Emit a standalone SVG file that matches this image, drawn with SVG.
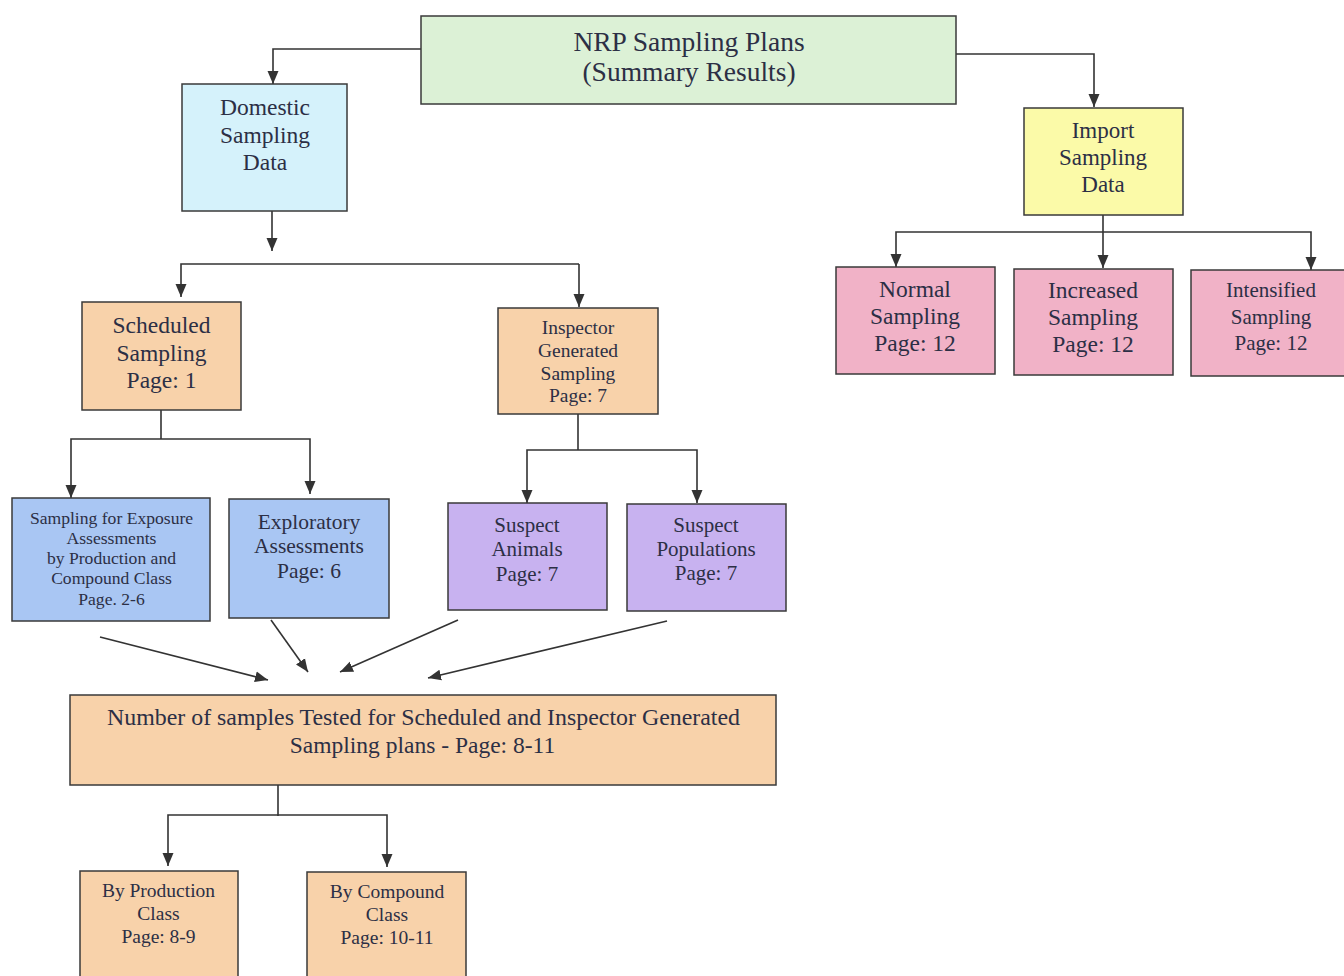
<svg xmlns="http://www.w3.org/2000/svg" width="1344" height="976" viewBox="0 0 1344 976">
<style>
.box{stroke:#3a3a3a;stroke-width:1.5}
.green{fill:#dcf1d6}.cyan{fill:#d5f2fb}.peach{fill:#f8d2aa}.blue{fill:#a9c6f3}.lav{fill:#c8b2f0}.pink{fill:#f1b2c7}.yellow{fill:#fbfaa8}
text{fill:#2c2f45;text-anchor:middle}
.c{fill:none;stroke:#333;stroke-width:1.6}
</style>
<defs>
<marker id="ah" markerUnits="userSpaceOnUse" markerWidth="14" markerHeight="14" viewBox="0 0 14 14" refX="13" refY="7" orient="auto">
<path d="M0,1.5 L13,7 L0,12.5 Z" fill="#333"/>
</marker>
</defs>
<rect width="1344" height="976" fill="#ffffff"/>
<g id="connectors">
<path class="c" d="M421,49 H273 V84" marker-end="url(#ah)"/>
<path class="c" d="M956,54 H1094 V107" marker-end="url(#ah)"/>
<path class="c" d="M272,211 V251" marker-end="url(#ah)"/>
<path class="c" d="M579,264 H181 V297" marker-end="url(#ah)"/>
<path class="c" d="M579,264 V307" marker-end="url(#ah)"/>
<path class="c" d="M161,410 V439"/>
<path class="c" d="M161,439 H71 V498" marker-end="url(#ah)"/>
<path class="c" d="M161,439 H310 V494" marker-end="url(#ah)"/>
<path class="c" d="M578,414 V450"/>
<path class="c" d="M578,450 H527 V503" marker-end="url(#ah)"/>
<path class="c" d="M578,450 H697 V503" marker-end="url(#ah)"/>
<path class="c" d="M100,637 L268,680" marker-end="url(#ah)"/>
<path class="c" d="M271,620 L308,672" marker-end="url(#ah)"/>
<path class="c" d="M458,620 L340,672" marker-end="url(#ah)"/>
<path class="c" d="M667,621 L428,678" marker-end="url(#ah)"/>
<path class="c" d="M278,785 V816"/>
<path class="c" d="M278,815 H168 V866" marker-end="url(#ah)"/>
<path class="c" d="M278,815 H387 V867" marker-end="url(#ah)"/>
<path class="c" d="M1103,215 V268" marker-end="url(#ah)"/>
<path class="c" d="M1103,232 H896 V267" marker-end="url(#ah)"/>
<path class="c" d="M1103,232 H1311 V270" marker-end="url(#ah)"/>
</g>
<g font-family="Liberation Serif, Times New Roman, serif">
<g id="root">
<rect class="box green" x="421" y="16" width="535" height="88"/>
<text x="689" y="51" font-size="27.5">NRP Sampling Plans</text>
<text x="689" y="81" font-size="27.5">(Summary Results)</text>
</g>
<g id="domestic">
<rect class="box cyan" x="182" y="84" width="165" height="127"/>
<text x="265" y="115" font-size="23.5">Domestic</text>
<text x="265" y="143" font-size="23.5">Sampling</text>
<text x="265" y="170" font-size="23.5">Data</text>
</g>
<g id="import">
<rect class="box yellow" x="1024" y="108" width="159" height="107"/>
<text x="1103" y="138" font-size="23">Import</text>
<text x="1103" y="165" font-size="23">Sampling</text>
<text x="1103" y="192" font-size="23">Data</text>
</g>
<g id="scheduled">
<rect class="box peach" x="82" y="302" width="159" height="108"/>
<text x="161.5" y="333" font-size="23.5">Scheduled</text>
<text x="161.5" y="361" font-size="23.5">Sampling</text>
<text x="161.5" y="388" font-size="23.5">Page: 1</text>
</g>
<g id="inspector">
<rect class="box peach" x="498" y="308" width="160" height="106"/>
<text x="578" y="334" font-size="19.5">Inspector</text>
<text x="578" y="357" font-size="19.5">Generated</text>
<text x="578" y="380" font-size="19.5">Sampling</text>
<text x="578" y="402" font-size="19.5">Page: 7</text>
</g>
<g id="exposure">
<rect class="box blue" x="12" y="498" width="198" height="123"/>
<text x="111.5" y="524" font-size="17.6">Sampling for Exposure</text>
<text x="111.5" y="544" font-size="17.6">Assessments</text>
<text x="111.5" y="564" font-size="17.6">by Production and</text>
<text x="111.5" y="584" font-size="17.6">Compound Class</text>
<text x="111.5" y="605" font-size="17.6">Page. 2-6</text>
</g>
<g id="exploratory">
<rect class="box blue" x="229" y="499" width="160" height="119"/>
<text x="309" y="529" font-size="21.5">Exploratory</text>
<text x="309" y="553" font-size="21.5">Assessments</text>
<text x="309" y="578" font-size="21.5">Page: 6</text>
</g>
<g id="suspect-animals">
<rect class="box lav" x="448" y="503" width="159" height="107"/>
<text x="527" y="532" font-size="21">Suspect</text>
<text x="527" y="556" font-size="21">Animals</text>
<text x="527" y="581" font-size="21">Page: 7</text>
</g>
<g id="suspect-populations">
<rect class="box lav" x="627" y="504" width="159" height="107"/>
<text x="706" y="532" font-size="21">Suspect</text>
<text x="706" y="556" font-size="21">Populations</text>
<text x="706" y="580" font-size="21">Page: 7</text>
</g>
<g id="normal">
<rect class="box pink" x="836" y="267" width="159" height="107"/>
<text x="915" y="297" font-size="23.5">Normal</text>
<text x="915" y="324" font-size="23.5">Sampling</text>
<text x="915" y="351" font-size="23.5">Page: 12</text>
</g>
<g id="increased">
<rect class="box pink" x="1014" y="269" width="159" height="106"/>
<text x="1093" y="298" font-size="23.5">Increased</text>
<text x="1093" y="325" font-size="23.5">Sampling</text>
<text x="1093" y="352" font-size="23.5">Page: 12</text>
</g>
<g id="intensified">
<rect class="box pink" x="1191" y="270" width="159" height="106"/>
<text x="1271" y="297" font-size="21">Intensified</text>
<text x="1271" y="324" font-size="21">Sampling</text>
<text x="1271" y="350" font-size="21">Page: 12</text>
</g>
<g id="number-tested">
<rect class="box peach" x="70" y="695" width="706" height="90"/>
<text x="423.5" y="725" font-size="23" textLength="633" lengthAdjust="spacingAndGlyphs">Number of samples Tested for Scheduled and Inspector Generated</text>
<text x="422.5" y="753" font-size="23.5">Sampling plans - Page: 8-11</text>
</g>
<g id="by-production">
<rect class="box peach" x="80" y="871" width="158" height="110"/>
<text x="158.5" y="897" font-size="19.5">By Production</text>
<text x="158.5" y="920" font-size="19.5">Class</text>
<text x="158.5" y="943" font-size="19.5">Page: 8-9</text>
</g>
<g id="by-compound">
<rect class="box peach" x="307" y="872" width="159" height="110"/>
<text x="387" y="898" font-size="19.5">By Compound</text>
<text x="387" y="921" font-size="19.5">Class</text>
<text x="387" y="944" font-size="19.5">Page: 10-11</text>
</g>
</g>
</svg>
